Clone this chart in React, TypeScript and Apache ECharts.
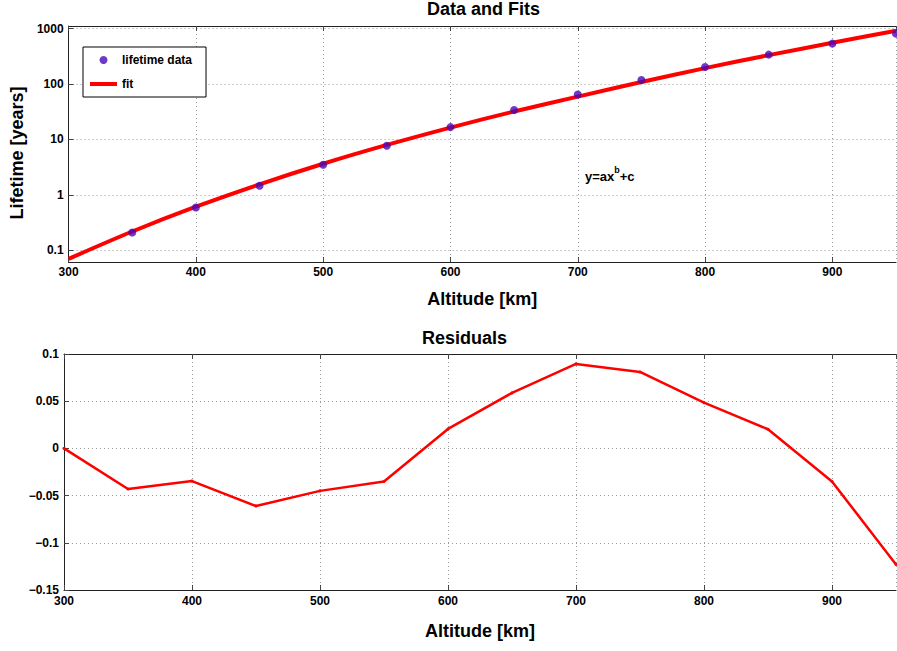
import React, { useEffect, useRef } from "react";
import * as echarts from "echarts";

// ---- data ----
const dataAltitudes = [350, 400, 450, 500, 550, 600, 650, 700, 750, 800, 850, 900, 950];
const lifetimeData = [0.209, 0.59, 1.46, 3.49, 7.7, 16.7, 34, 65, 118.6, 204, 340, 538, 814];

const fitAltitudes = [300, 350, 400, 450, 500, 550, 600, 650, 700, 750, 800, 850, 900, 950];
const fitValues = [0.07, 0.218, 0.611, 1.55, 3.65, 7.97, 16.4, 32.1, 59.4, 109, 194, 333, 557, 921];

const residualAltitudes = [300, 350, 400, 450, 500, 550, 600, 650, 700, 750, 800, 850, 900, 950];
const residualValues = [0, -0.043, -0.0346, -0.061, -0.045, -0.035, 0.0206, 0.0588, 0.0895, 0.081, 0.0485, 0.0203, -0.035, -0.123];

const logTickLabels = ["0.1", "1", "10", "100", "1000"];

const FONT = "'Liberation Sans', Arial, Helvetica, sans-serif";
const RED = "#ff0000";
const PURPLE = "#4a08b8";

export default function App() {
  const ref = useRef<HTMLDivElement>(null);

  useEffect(() => {
    if (!ref.current) return;
    const chart = echarts.init(ref.current, null, { renderer: "svg" });

    const labelStyle = { fontFamily: FONT, fontWeight: "bold" as const, fontSize: 12, color: "#000" };
    const nameStyle = { fontFamily: FONT, fontWeight: "bold" as const, fontSize: 18, color: "#000" };
    const axisLine = { show: true, onZero: false, lineStyle: { color: "#222", width: 1 } };
    const axisTick = { show: true, inside: true, length: 5, lineStyle: { color: "#444" } };
    const splitLine = { show: true, lineStyle: { color: "#9a9a9a", type: [1, 3] as any, width: 1 } };

    const fmtNum = (v: number) => {
      const s = String(Number(v.toPrecision(6)));
      return s.startsWith("-") ? "\u2212" + s.slice(1) : s;
    };

    const option: any = {
      animation: false,
      backgroundColor: "#fff",
      title: [
        { text: "Data and Fits", left: 427, top: 0, padding: 0, textStyle: { ...nameStyle, lineHeight: 18 } },
        { text: "Residuals", left: 422, top: 329, padding: 0, textStyle: { ...nameStyle, lineHeight: 18 } },
      ],
      grid: [
        { left: 64, top: 26, width: 832, height: 236, containLabel: false },
        { left: 64, top: 354, width: 832, height: 236, containLabel: false },
      ],
      legend: {
        left: 83,
        top: 47,
        orient: "vertical",
        padding: [6, 14, 6, 7],
        itemGap: 10,
        itemWidth: 27,
        itemHeight: 8,
        symbolKeepAspect: true,
        borderColor: "#000",
        borderWidth: 1,
        backgroundColor: "#fff",
        textStyle: { ...labelStyle, lineHeight: 14 },
        data: [
          { name: "lifetime data", icon: "circle" },
          { name: "fit", icon: "path://M0,0L27,0L27,4L0,4Z", itemStyle: { color: RED } },
        ],
      },
      xAxis: [
        {
          gridIndex: 0,
          type: "value",
          min: 300,
          max: 950,
          interval: 100,
          position: "bottom",
          axisLine,
          axisTick,
          axisLabel: { ...labelStyle, margin: 4, showMaxLabel: false, formatter: (v: number) => fmtNum(v) },
          splitLine,
          name: "Altitude [km]",
          nameLocation: "middle",
          nameGap: 28,
          nameTextStyle: nameStyle,
        },
        {
          gridIndex: 0,
          type: "value",
          min: 300,
          max: 950,
          interval: 100,
          position: "top",
          axisLine,
          axisTick,
          axisLabel: { show: false },
          splitLine: { show: false },
        },
        {
          gridIndex: 1,
          type: "value",
          min: 300,
          max: 950,
          interval: 100,
          position: "bottom",
          axisLine,
          axisTick,
          axisLabel: { ...labelStyle, margin: 5, showMaxLabel: false, formatter: (v: number) => fmtNum(v) },
          splitLine,
          name: "Altitude [km]",
          nameLocation: "middle",
          nameGap: 32,
          nameTextStyle: nameStyle,
        },
        {
          gridIndex: 1,
          type: "value",
          min: 300,
          max: 950,
          interval: 100,
          position: "top",
          axisLine,
          axisTick,
          axisLabel: { show: false },
          splitLine: { show: false },
        },
      ],
      yAxis: [
        {
          gridIndex: 0,
          type: "log",
          logBase: 10,
          min: 0.0614,
          max: 1119,
          axisLine,
          axisTick,
          axisLabel: {
            ...labelStyle,
            margin: 5,
            showMinLabel: false,
            showMaxLabel: false,
            formatter: (v: number) => {
              const s = String(Number(v.toPrecision(6)));
              return logTickLabels.includes(s) ? s : "";
            },
          },
          splitLine,
          name: "Lifetime [years]",
          nameLocation: "middle",
          nameGap: 32,
          nameTextStyle: { ...nameStyle, padding: [0, 18, 0, 0] },
        },
        {
          gridIndex: 1,
          type: "value",
          min: -0.15,
          max: 0.1,
          interval: 0.05,
          axisLine,
          axisTick,
          axisLabel: { ...labelStyle, margin: 5, formatter: (v: number) => fmtNum(v) },
          splitLine,
        },
      ],
      graphic: [
        {
          type: "text",
          left: 585,
          top: 165,
          style: {
            text: "{n|y=ax}{s|b}{n|+c}",
            rich: {
              n: { fontFamily: FONT, fontWeight: "bold", fontSize: 13, fill: "#000", lineHeight: 18, verticalAlign: "bottom" },
              s: { fontFamily: FONT, fontWeight: "bold", fontSize: 9, fill: "#000", lineHeight: 18, verticalAlign: "top" },
            },
          },
        },
      ],
      series: [
        {
          name: "fit",
          type: "line",
          xAxisIndex: 0,
          yAxisIndex: 0,
          data: fitAltitudes.map((x, i) => [x, fitValues[i]]),
          smooth: 0.3,
          showSymbol: false,
          symbol: "none",
          lineStyle: { color: RED, width: 4 },
          itemStyle: { color: RED },
          z: 2,
        },
        {
          name: "lifetime data",
          type: "scatter",
          xAxisIndex: 0,
          yAxisIndex: 0,
          data: dataAltitudes.map((x, i) => [x, lifetimeData[i]]),
          symbol: "circle",
          symbolSize: 8,
          itemStyle: { color: PURPLE },
          z: 3,
        },
        {
          name: "residuals",
          type: "line",
          xAxisIndex: 2,
          yAxisIndex: 1,
          data: residualAltitudes.map((x, i) => [x, residualValues[i]]),
          symbol: "circle",
          symbolSize: 3,
          showSymbol: true,
          lineStyle: { color: RED, width: 2.5 },
          itemStyle: { color: RED },
        },
      ],
    };

    chart.setOption(option);
    return () => chart.dispose();
  }, []);

  return (
    <div
      ref={ref}
      style={{ position: "absolute", left: 0, top: 0, width: 897, height: 651, background: "#fff" }}
    />
  );
}
